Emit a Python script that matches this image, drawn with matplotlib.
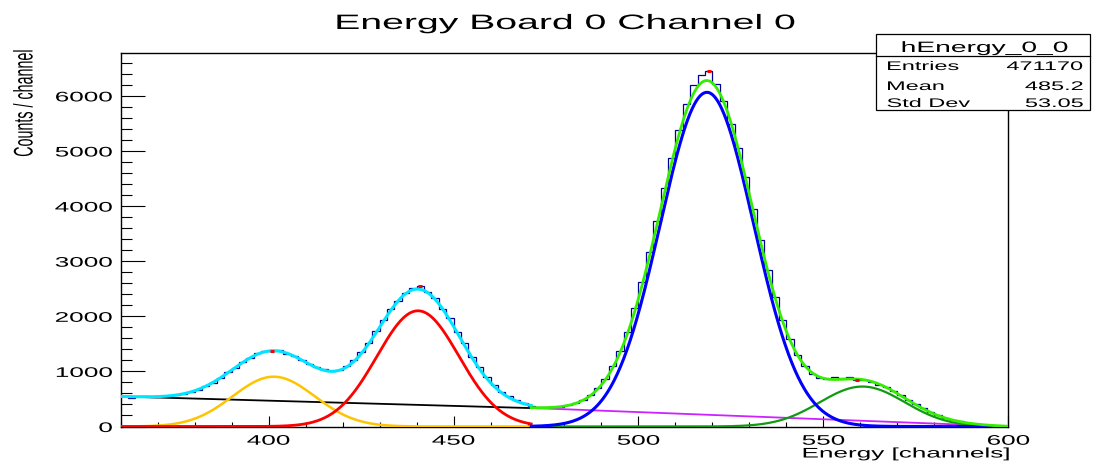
import numpy as np
import matplotlib
matplotlib.use("Agg")
import matplotlib.pyplot as plt
from matplotlib.patheffects import AbstractPathEffect
from matplotlib.transforms import Affine2D
from matplotlib.patches import Rectangle
from matplotlib.lines import Line2D

# ---- histogram: 2-channel bins from 360 to 600 ----
bin_edges_lo = 360
bin_width = 2
hist_counts = [
    548, 522, 552, 546, 531, 549, 560, 578, 590, 631,
    668, 741, 796, 889, 985, 1062, 1170, 1238, 1325, 1374,
    1362, 1380, 1321, 1285, 1206, 1128, 1075, 1042, 1016, 1021,
    1106, 1215, 1360, 1508, 1736, 1930, 2140, 2271, 2430, 2517,
    2555, 2440, 2330, 2140, 1965, 1716, 1510, 1270, 1085, 890,
    760, 628, 548, 478, 421, 378,
    352, 345, 357, 362, 389, 431, 488, 575, 702, 866,
    1090, 1372, 1720, 2150, 2625, 3160, 3730, 4320, 4880, 5390,
    5860, 6190, 6380, 6460, 6210, 5910, 5490, 5060, 4530, 3950,
    3380, 2840, 2350, 1930, 1585, 1305, 1090, 960, 880, 871,
    893, 880, 900, 850, 835, 800, 761, 715, 650, 570,
    488, 410, 338, 268, 210, 160, 121, 92, 66, 48,
    34, 23, 14, 8,
]

# peaks found by the spectrum search (bin centres)
peak_channels = [401, 441, 519, 559]

# ---- fit parameters ----
left_range = (360.0, 471.0)
right_range = (471.0, 600.0)
bg_left = (545.0, -1.9)      # value at 360, slope
bg_right = (0.0, -2.6)       # value at 600.5, slope
gaus_yellow = (904.0, 401.4, 11.1)
gaus_red = (2100.0, 440.4, 11.1)
gaus_blue = (6065.0, 518.5, 12.6)
gaus_dkgreen = (725.0, 560.5, 11.5)

# stats box
stats_title = "hEnergy_0_0"
stats_names = ["Entries", "Mean", "Std Dev"]
stats_values = ["471170", "485.2", "53.05"]

STRETCH = 1.88


class HStretch(AbstractPathEffect):
    """Widen glyphs horizontally about an anchor inside the ink box."""

    def __init__(self, sx, anchor=0.5):
        super().__init__()
        self.sx = sx
        self.anchor = anchor

    def draw_path(self, renderer, gc, tpath, affine, rgbFace=None):
        ext = tpath.get_extents(affine)
        ax_ = ext.x0 + self.anchor * ext.width
        aff = affine + Affine2D().translate(-ax_, 0).scale(self.sx, 1).translate(ax_, 0)
        renderer.draw_path(gc, tpath, aff, rgbFace)


def gaus(x, p):
    a, m, s = p
    return a * np.exp(-0.5 * ((x - m) / s) ** 2)


plt.rcParams["font.family"] = ["Liberation Sans", "DejaVu Sans"]

W, H = 1100, 466
fig = plt.figure(figsize=(W / 100, H / 100), dpi=100)
fig.patch.set_facecolor("white")

x0p, x1p, y0p, y1p = 120.5, 1008.5, 426.5, 52.7
ax = fig.add_axes([x0p / W, 1 - y0p / H, (x1p - x0p) / W, (y0p - y1p) / H])

counts = np.array(hist_counts, dtype=float)
edges = bin_edges_lo + bin_width * np.arange(len(counts) + 1)
ax.stairs(counts, edges, baseline=None, color="#000099", lw=0.9, zorder=2)

# fit curves
xl = np.linspace(left_range[0], left_range[1], 600)
xr = np.linspace(right_range[0], right_range[1], 600)
bl = bg_left[0] + bg_left[1] * (xl - 360.0)
br = bg_right[0] + bg_right[1] * (xr - 600.5)
yel = gaus(xl, gaus_yellow)
red = gaus(xl, gaus_red)
blu = gaus(xr, gaus_blue)
dgr = gaus(xr, gaus_dkgreen)

ax.plot(xl, bl, color="black", lw=1.3, zorder=3)
ax.plot(xr, br, color="#cc22ff", lw=1.3, zorder=3)
ax.plot(xl, yel, color="#ffc400", lw=1.8, zorder=3)
ax.plot(xl, red, color="#ff0000", lw=2.0, zorder=3)
ax.plot(xr, dgr, color="#109a10", lw=1.6, zorder=3)
ax.plot(xr, blu, color="#0000ff", lw=2.2, zorder=3)
ax.plot(xl, bl + yel + red, color="#00e5ff", lw=2.2, zorder=4)
ax.plot(xr, br + blu + dgr, color="#33ee00", lw=2.0, zorder=4)

# peak markers on the histogram
centres = edges[:-1] + bin_width / 2
peak_y = [counts[np.argmin(np.abs(centres - c))] for c in peak_channels]
ax.plot(peak_channels, peak_y, ls="none", marker="_", ms=3.5, mew=2.2,
        color="#ff0000", zorder=5)

ax.set_xlim(360, 600)
ax.set_ylim(0, 6784)
ax.set_xticks([400, 450, 500, 550, 600])
ax.set_xticks(np.arange(360, 601, 10), minor=True)
ax.set_yticks(np.arange(0, 6001, 1000))
ax.set_yticks(np.arange(0, 6785, 200), minor=True)
ax.tick_params(which="both", direction="in", top=False, right=False,
               width=0.8, colors="black", labelsize=10)
ax.tick_params(axis="x", which="major", length=7.9, pad=5.2)
ax.tick_params(axis="x", which="minor", length=3.8)
ax.tick_params(axis="y", which="major", length=17.3, pad=5.8)
ax.tick_params(axis="y", which="minor", length=8.0)
for sp in ax.spines.values():
    sp.set_linewidth(1.0)

for lbl in ax.get_xticklabels():
    lbl.set_path_effects([HStretch(STRETCH, 0.5)])
for lbl in ax.get_yticklabels():
    lbl.set_path_effects([HStretch(STRETCH, 1.0)])


def fx(px):
    return px / W


def fy(py):
    return 1 - py / H


# title and axis titles
fig.text(fx(566), fy(29), "Energy Board 0 Channel 0", ha="center", va="baseline",
         fontsize=15, path_effects=[HStretch(STRETCH, 0.5)])
fig.text(fx(1010), fy(457.5), "Energy [channels]", ha="right", va="baseline",
         fontsize=10, path_effects=[HStretch(STRETCH, 1.0)])
fig.text(fx(24), fy(103), "Counts / channel", ha="center", va="center",
         rotation=90, fontsize=10.3, path_effects=[HStretch(STRETCH, 0.5)])

# statistics box
bx0, bx1, by0, by1 = 876, 1090, 34, 110
fig.patches.append(Rectangle((fx(bx0), fy(by1)), fx(bx1) - fx(bx0), fy(by0) - fy(by1),
                             transform=fig.transFigure, facecolor="white",
                             edgecolor="black", lw=0.9, zorder=10))
fig.lines.append(Line2D([fx(bx0), fx(bx1)], [fy(56), fy(56)], transform=fig.transFigure,
                        color="black", lw=0.9, zorder=11))
fig.text(fx(985), fy(52), stats_title, ha="center", va="baseline", fontsize=10.8,
         zorder=12, path_effects=[HStretch(STRETCH, 0.5)])
for i, (nm, val) in enumerate(zip(stats_names, stats_values)):
    yb = [70, 90, 107][i]
    fig.text(fx(887), fy(yb), nm, ha="left", va="baseline", fontsize=9,
             zorder=12, path_effects=[HStretch(STRETCH, 0.0)])
    fig.text(fx(1083), fy(yb), val, ha="right", va="baseline", fontsize=9,
             zorder=12, path_effects=[HStretch(STRETCH, 1.0)])

fig.savefig("out.png", dpi=100, facecolor="white")
